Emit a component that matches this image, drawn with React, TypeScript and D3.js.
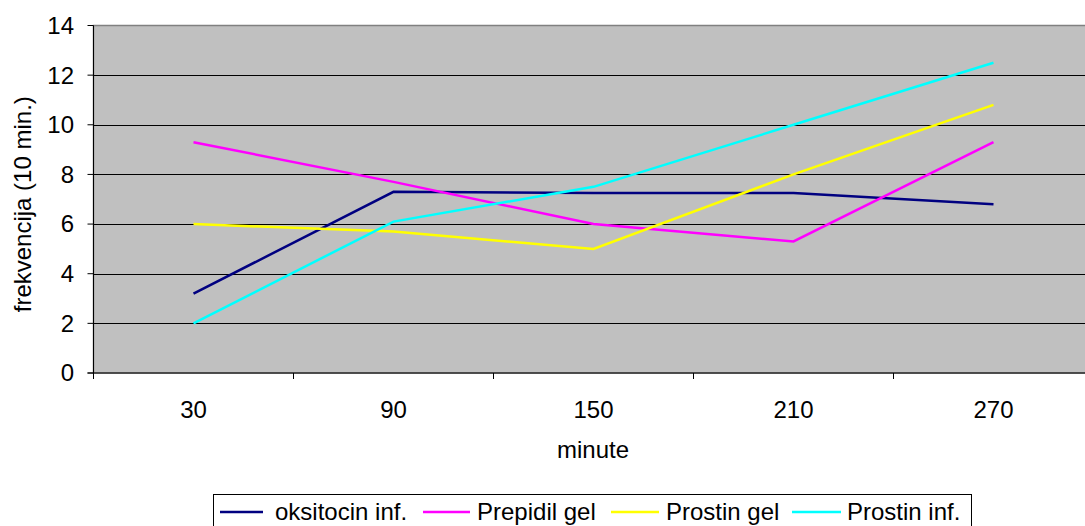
import React from "react";
import * as d3 from "d3";

const categories = ["30", "90", "150", "210", "270"];
const seriesNames = ["oksitocin inf.", "Prepidil gel", "Prostin gel", "Prostin inf."];
const oksitocin = [3.2, 7.3, 7.25, 7.25, 6.8];
const prepidil = [9.3, 7.7, 6.0, 5.3, 9.3];
const prostinGel = [6.0, 5.7, 5.0, 8.0, 10.8];
const prostinInf = [2.0, 6.1, 7.5, 10.0, 12.5];
const yTicks = [0, 2, 4, 6, 8, 10, 12, 14];
const colors = ["#000080", "#FF00FF", "#FFFF00", "#00FFFF"];

export default function App() {
  const W = 1085, H = 526;
  const left = 93.5, right = 1093.5, top = 25.5, bottom = 373;
  const x = d3.scaleBand().domain(categories).range([left, right]);
  const y = d3.scaleLinear().domain([0, 14]).range([bottom, top]);
  const data = [oksitocin, prepidil, prostinGel, prostinInf];
  const line = d3.line<number>().x((_, i) => (x(categories[i]) as number) + x.bandwidth() / 2).y(d => y(d));
  const font = "Arial, 'Liberation Sans', sans-serif";
  const fs = 24;
  const legendItems = [
    { x1: 220, x2: 263, tx: 275, name: seriesNames[0] },
    { x1: 423, x2: 470, tx: 477, name: seriesNames[1] },
    { x1: 611, x2: 659, tx: 666, name: seriesNames[2] },
    { x1: 792, x2: 841, tx: 847, name: seriesNames[3] },
  ];
  return (
    <svg width={W} height={H} style={{ position: "absolute", left: 0, top: 0, display: "block" }} fontFamily={font}>
      <rect x={left} y={top} width={right - left} height={bottom - top} fill="#C0C0C0" stroke="#808080" strokeWidth={1.5} />
      {yTicks.filter(t => t > 0 && t < 14).map(t => (
        <line key={t} x1={left} x2={right} y1={Math.round(y(t)) + 0.5} y2={Math.round(y(t)) + 0.5} stroke="#000" strokeWidth={1} />
      ))}
      <line x1={left} x2={left} y1={top} y2={bottom + 6} stroke="#000" />
      <line x1={left - 6} x2={right} y1={bottom} y2={bottom} stroke="#000" />
      {yTicks.map(t => (
        <g key={t}>
          <line x1={left - 6} x2={left} y1={y(t)} y2={y(t)} stroke="#000" />
          <text x={74} y={y(t)} dy="0.35em" textAnchor="end" fontSize={fs}>{t}</text>
        </g>
      ))}
      {categories.map((c) => (
        <g key={c}>
          <line x1={(x(c) as number) + x.bandwidth()} x2={(x(c) as number) + x.bandwidth()} y1={bottom} y2={bottom + 6} stroke="#000" />
          <text x={(x(c) as number) + x.bandwidth() / 2} y={418} textAnchor="middle" fontSize={fs}>{c}</text>
        </g>
      ))}
      <text x={593} y={458} textAnchor="middle" fontSize={fs}>minute</text>
      <text transform={`translate(31,${(top + bottom) / 2 + 5}) rotate(-90)`} textAnchor="middle" fontSize={fs}>frekvencija (10 min.)</text>
      {data.map((d, i) => (
        <path key={i} d={line(d) || ""} fill="none" stroke={colors[i]} strokeWidth={2.5} />
      ))}
      <rect x={213.5} y={494.5} width={758} height={40} fill="#fff" stroke="#000" />
      {legendItems.map((it, i) => (
        <g key={i}>
          <line x1={it.x1} x2={it.x2} y1={512} y2={512} stroke={colors[i]} strokeWidth={2.5} />
          <text x={it.tx} y={520} fontSize={fs}>{it.name}</text>
        </g>
      ))}
    </svg>
  );
}
